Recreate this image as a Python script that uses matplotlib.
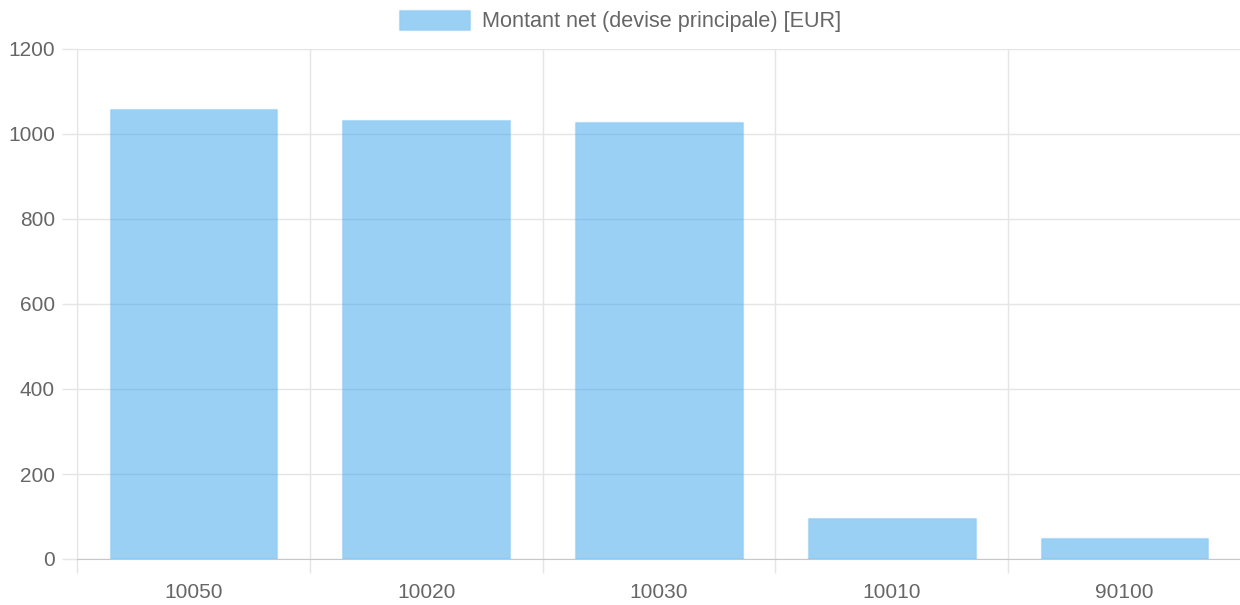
import numpy as np
import matplotlib.pyplot as plt
from matplotlib.ticker import FixedLocator

# données
comptes = ['10050', '10020', '10030', '10010', '90100']
montants = [1058, 1033, 1029, 97, 50]
y_ticks = [0, 200, 400, 600, 800, 1000, 1200]
serie = 'Montant net (devise principale) [EUR]'

plt.rcParams['font.family'] = ['Liberation Sans', 'DejaVu Sans']

bleu = (54 / 255, 162 / 255, 235 / 255, 0.5)
grille = '#E5E5E5'
texte = '#666666'

fig = plt.figure(figsize=(12.4, 6.05), dpi=100)
ax = fig.add_axes([77 / 1240, 1 - 559 / 605, 1164 / 1240, 510 / 605])

x = np.arange(len(comptes))
ax.bar(x, montants, width=0.72, color=bleu, edgecolor=(54 / 255, 162 / 255, 235 / 255, 0.15),
       linewidth=1, zorder=3, label=serie)

ax.set_xlim(-0.5, len(comptes) - 0.5)
ax.set_ylim(0, 1200)

# axe y (longueurs en points : 15 px ~ 10.8 pt)
ax.set_yticks(y_ticks)
ax.yaxis.grid(True, color=grille, linewidth=1, zorder=0)
ax.tick_params(axis='y', length=10.8, width=1, color=grille, labelsize=15, labelcolor=texte, pad=5)

# axe x : traits de grille entre les catégories
ax.set_xticks(x)
ax.set_xticklabels(comptes)
ax.tick_params(axis='x', which='major', length=0, labelsize=15, labelcolor=texte, pad=17.5)
ax.xaxis.set_minor_locator(FixedLocator(np.arange(len(comptes) + 1) - 0.5))
ax.tick_params(axis='x', which='minor', length=10, width=1, color=grille)
ax.xaxis.grid(True, which='minor', color=grille, linewidth=1, zorder=0)
ax.set_axisbelow(True)

for s in ['top', 'right']:
    ax.spines[s].set_visible(False)
ax.spines['left'].set_color(grille)
ax.spines['bottom'].set_color('#C8C8C8')

fig.legend(loc='upper center', bbox_to_anchor=(0.5, 0.995), frameon=False, fontsize=15.6,
           labelcolor=texte, handlelength=3.3, handleheight=1.1, handletextpad=0.55,
           borderaxespad=0.0, borderpad=0.3)

plt.savefig('out.png', dpi=100)
